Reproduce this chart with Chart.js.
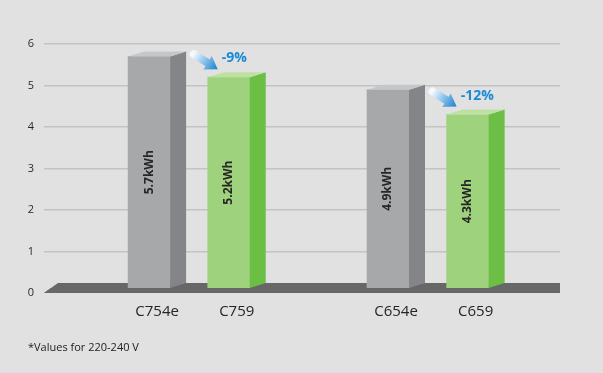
<!DOCTYPE html>
<html>
<head>
<meta charset="utf-8">
<script src="https://cdn.jsdelivr.net/npm/chart.js@4/dist/chart.umd.min.js"></script>
<style>
  html, body { margin: 0; padding: 0; background: #e1e1e1; }
  canvas { display: block; }
</style>
</head>
<body>
<canvas id="chart" width="603" height="373"></canvas>
<script>
// data
const models = ['C754e', 'C759', '', 'C654e', 'C659'];
const energy = [5.7, 5.2, null, 4.9, 4.3];
const kinds = ['old', 'new', '', 'old', 'new'];
const savings = ['', '-9%', '', '', '-12%'];
const yTicks = [0, 1, 2, 3, 4, 5, 6];
const note = '*Values for 220-240 V';

const faces = {
    old: { front: '#a7a8aa', side: '#848588', top: '#c6c7c9' },
    new: { front: '#9fd27c', side: '#6cbf44', top: '#bde1a3' },
};

const DX = 16, DY = 5, FLOOR = 10;
const FONT = '"Open Sans", "DejaVu Sans", sans-serif';

const points = [];
models.forEach((m, i) => {
    if (energy[i] !== null) points.push({ x: i, y: energy[i] });
});
const barKinds = kinds.filter(k => k);

const bars3d = {
    id: 'bars3d',
    beforeDraw(chart) {
        const ctx = chart.ctx;
        ctx.save();
        ctx.fillStyle = '#e1e1e1';
        ctx.fillRect(0, 0, chart.width, chart.height);
        ctx.restore();
    },
    beforeDatasetsDraw(chart) {
        const ctx = chart.ctx;
        const a = chart.chartArea;
        const y0 = chart.scales.y.getPixelForValue(0);
        ctx.save();
        ctx.fillStyle = '#676767';
        ctx.beginPath();
        ctx.moveTo(a.left, y0);
        ctx.lineTo(a.left + 14, y0 - FLOOR);
        ctx.lineTo(a.right, y0 - FLOOR);
        ctx.lineTo(a.right, y0);
        ctx.closePath();
        ctx.fill();
        ctx.restore();
    },
    afterDatasetsDraw(chart) {
        const ctx = chart.ctx;
        const a = chart.chartArea;
        const y0 = chart.scales.y.getPixelForValue(0);
        const base = y0 - FLOOR / 2;
        const meta = chart.getDatasetMeta(0);
        ctx.save();
        meta.data.forEach((bar, j) => {
            const f = faces[barKinds[j]];
            const left = bar.x - bar.width / 2;
            const right = bar.x + bar.width / 2;
            const top = bar.y;
            // side
            ctx.fillStyle = f.side;
            ctx.beginPath();
            ctx.moveTo(right, base);
            ctx.lineTo(right + DX, base - DY);
            ctx.lineTo(right + DX, top - DY);
            ctx.lineTo(right, top);
            ctx.closePath();
            ctx.fill();
            // top
            ctx.fillStyle = f.top;
            ctx.beginPath();
            ctx.moveTo(left, top);
            ctx.lineTo(left + DX, top - DY);
            ctx.lineTo(right + DX, top - DY);
            ctx.lineTo(right, top);
            ctx.closePath();
            ctx.fill();
        });
        // front strip of the floor over the bar feet
        ctx.fillStyle = '#676767';
        ctx.beginPath();
        ctx.moveTo(a.left, y0);
        ctx.lineTo(a.left + 7, base);
        ctx.lineTo(a.right, base);
        ctx.lineTo(a.right, y0);
        ctx.closePath();
        ctx.fill();

        // value text inside bars, saving arrows
        let j = 0;
        models.forEach((m, i) => {
            if (energy[i] === null) return;
            const bar = meta.data[j++];
            ctx.save();
            ctx.translate(bar.x, (bar.y + base) / 2);
            ctx.rotate(-Math.PI / 2);
            ctx.fillStyle = '#262626';
            ctx.font = 'bold 12px ' + FONT;
            ctx.textAlign = 'center';
            ctx.textBaseline = 'middle';
            ctx.fillText(energy[i].toFixed(1) + 'kWh', 0, 0);
            ctx.restore();

            if (!savings[i]) return;
            const left = bar.x - bar.width / 2;
            const top = bar.y;
            const tx = left - 14, ty = top - 23;
            const hx = left + 10, hy = top - 8;
            const len = Math.hypot(hx - tx, hy - ty);
            const ux = (hx - tx) / len, uy = (hy - ty) / len;
            const g = ctx.createLinearGradient(tx, ty, hx, hy);
            g.addColorStop(0, '#f4f9fd');
            g.addColorStop(0.45, '#8cc2ea');
            g.addColorStop(1, '#1a80cc');
            ctx.strokeStyle = g;
            ctx.fillStyle = g;
            ctx.lineWidth = 8;
            ctx.lineCap = 'round';
            ctx.beginPath();
            ctx.moveTo(tx, ty);
            ctx.lineTo(hx - ux * 10, hy - uy * 10);
            ctx.stroke();
            ctx.beginPath();
            ctx.moveTo(hx, hy);
            ctx.lineTo(hx - ux * 12 - uy * 8, hy - uy * 12 + ux * 8);
            ctx.lineTo(hx - ux * 12 + uy * 8, hy - uy * 12 - ux * 8);
            ctx.closePath();
            ctx.fill();

            ctx.fillStyle = '#1a8ad5';
            ctx.font = 'bold 14px ' + FONT;
            ctx.textAlign = 'left';
            ctx.textBaseline = 'middle';
            ctx.fillText(savings[i], left + 14, top - 19);
        });
        ctx.restore();
    },
    afterDraw(chart) {
        const ctx = chart.ctx;
        ctx.save();
        ctx.fillStyle = '#222';
        ctx.font = '11px ' + FONT;
        ctx.textBaseline = 'middle';
        ctx.fillText(note, 28, 348);
        ctx.restore();
    }
};

new Chart(document.getElementById('chart'), {
    type: 'bar',
    data: {
        datasets: [{
            data: points,
            backgroundColor: barKinds.map(k => faces[k].front),
            barThickness: 42,
            borderWidth: 0,
        }],
    },
    options: {
        responsive: false,
        animation: false,
        layout: { padding: { top: 44, right: 43, bottom: 40, left: 0 } },
        plugins: { legend: { display: false }, tooltip: { enabled: false } },
        scales: {
            x: {
                type: 'linear',
                offset: false,
                min: -1.32,
                max: 5.16,
                afterBuildTicks(scale) {
                    scale.ticks = models.map((m, i) => ({ value: i }));
                },
                afterFit(scale) { scale.height = 40; },
                grid: { display: false, drawTicks: false, offset: false },
                border: { display: false },
                ticks: {
                    autoSkip: false,
                    maxRotation: 0,
                    padding: 10,
                    labelOffset: 8,
                    color: '#262626',
                    font: { family: FONT, size: 15 },
                    callback: (v) => models[v] || '',
                },
            },
            y: {
                min: 0,
                max: 6,
                afterBuildTicks(scale) {
                    scale.ticks = yTicks.map(v => ({ value: v }));
                },
                afterFit(scale) { scale.width = 44; },
                grid: {
                    drawTicks: false,
                    color: (c) => c.tick && c.tick.value === 0 ? 'rgba(0,0,0,0)' : '#c3c3c3',
                    lineWidth: 1.5,
                },
                border: { display: false },
                ticks: {
                    padding: 10,
                    color: '#2a2a2a',
                    font: { family: FONT, size: 11 },
                },
            },
        },
    },
    plugins: [bars3d],
});
</script>
</body>
</html>
